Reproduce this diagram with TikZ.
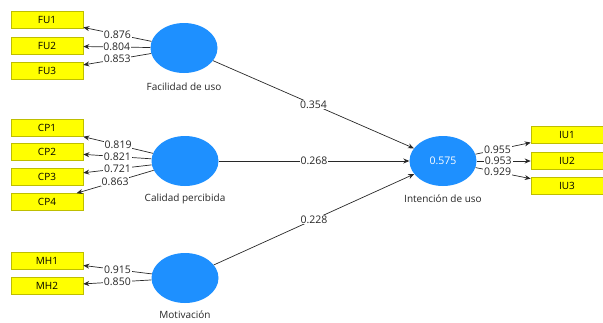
\documentclass[tikz,border=0pt]{standalone}
\usepackage{fontspec}
\setmainfont{Open Sans}
\usetikzlibrary{shapes.geometric,arrows.meta}
\definecolor{lvblue}{RGB}{30,144,255}
\definecolor{mvyellow}{RGB}{255,255,0}
\definecolor{mvborder}{RGB}{190,190,0}
\definecolor{linegray}{RGB}{40,40,40}
\tikzset{
  latent/.style={ellipse,fill=lvblue,draw=none,minimum width=67pt,minimum height=50pt,inner sep=0pt,text=white,font=\fontsize{10.5}{12}\selectfont},
  indicator/.style={rectangle,fill=mvyellow,draw=mvborder,line width=0.6pt,minimum width=72pt,minimum height=17pt,inner sep=0pt,font=\fontsize{10}{11}\selectfont},
  lvname/.style={font=\fontsize{10}{11}\selectfont,text=black!85},
  conn/.style={draw=linegray,line width=0.7pt,-{Stealth[length=6pt,width=5pt]}},
  coef/.style={fill=white,inner sep=0.8pt,font=\fontsize{10.5}{11}\selectfont,text=black!85}
}
\begin{document}
\begin{tikzpicture}[x=1pt,y=-1pt]
\useasboundingbox (0,0) rectangle (603,322);
% latent variables
\node[latent] (fu) at (184,48) {};
\node[latent] (cp) at (185,161) {};
\node[latent] (mh) at (185,278) {};
\node[latent] (iu) at (443,161) {0.575};
\node[lvname] (funame) at (184,87) {Facilidad de uso};
\node[lvname] (cpname) at (185,199) {Calidad percibida};
\node[lvname] (mhname) at (185,315) {Motivación};
\node[lvname] (iuname) at (443,199) {Intención de uso};
% indicators
\node[indicator] (fu1) at (47,20) {FU1};
\node[indicator] (fu2) at (47,46) {FU2};
\node[indicator] (fu3) at (47,71) {FU3};
\node[indicator] (cp1) at (47,128) {CP1};
\node[indicator] (cp2) at (47,152) {CP2};
\node[indicator] (cp3) at (47,177) {CP3};
\node[indicator] (cp4) at (47,202) {CP4};
\node[indicator] (mh1) at (47,261) {MH1};
\node[indicator] (mh2) at (47,286) {MH2};
\node[indicator] (iu1) at (567,135) {IU1};
\node[indicator] (iu2) at (567,161) {IU2};
\node[indicator] (iu3) at (567,186) {IU3};
% outer loadings
\draw[conn] (fu) -- node[coef,pos=0.5] {0.876} (fu1);
\draw[conn] (fu) -- node[coef,pos=0.5] {0.804} (fu2);
\draw[conn] (fu) -- node[coef,pos=0.5] {0.853} (fu3);
\draw[conn] (cp) -- node[coef,pos=0.5] {0.819} (cp1);
\draw[conn] (cp) -- node[coef,pos=0.5] {0.821} (cp2);
\draw[conn] (cp) -- node[coef,pos=0.5] {0.721} (cp3);
\draw[conn] (cp) -- node[coef,pos=0.5] {0.863} (cp4);
\draw[conn] (mh) -- node[coef,pos=0.5] {0.915} (mh1);
\draw[conn] (mh) -- node[coef,pos=0.5] {0.850} (mh2);
\draw[conn] (iu) -- node[coef,pos=0.4] {0.955} (iu1);
\draw[conn] (iu) -- node[coef,pos=0.4] {0.953} (iu2);
\draw[conn] (iu) -- node[coef,pos=0.4] {0.929} (iu3);
% path coefficients
\draw[conn] (fu) -- node[coef,pos=0.5] {0.354} (iu);
\draw[conn] (cp) -- node[coef,pos=0.5] {0.268} (iu);
\draw[conn] (mh) -- node[coef,pos=0.5] {0.228} (iu);
\end{tikzpicture}
\end{document}
